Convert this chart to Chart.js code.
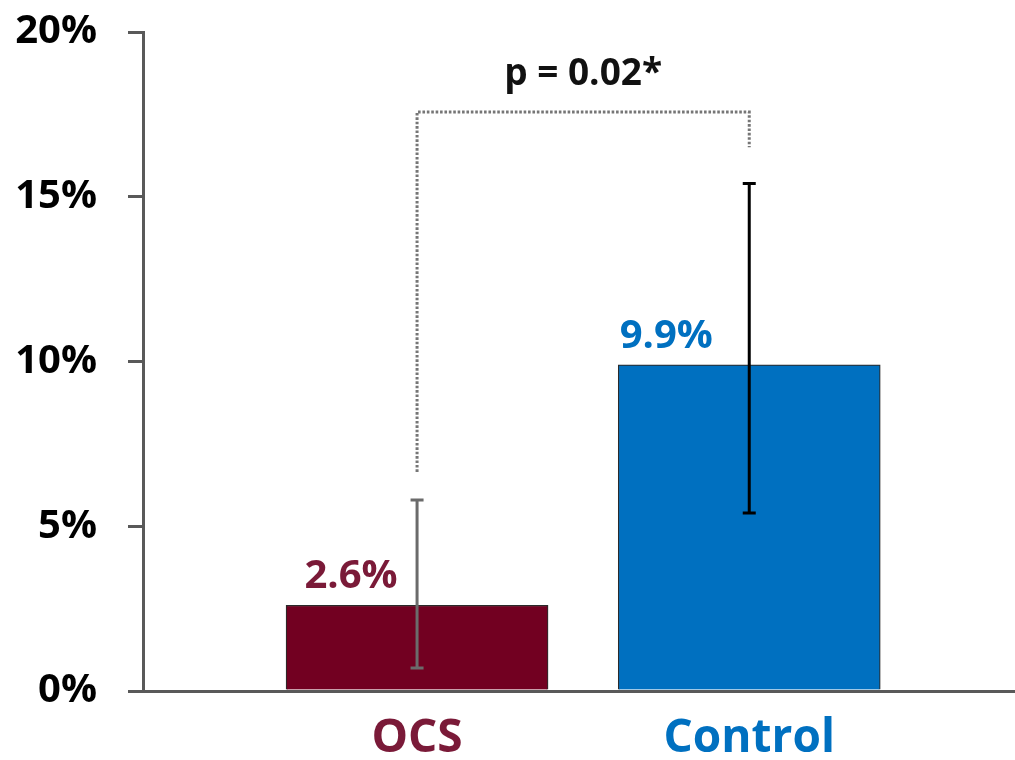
<!DOCTYPE html>
<html>
<head>
<meta charset="utf-8">
<script src="https://cdn.jsdelivr.net/npm/chart.js@4/dist/chart.umd.min.js"></script>
<style>
  html, body { margin: 0; padding: 0; background: #ffffff; }
  #wrap { width: 1015px; height: 760px; position: relative; }
</style>
</head>
<body>
<div id="wrap"><canvas id="chart"></canvas></div>
<script>
// Group labels and event rates (%)
const categories = ['OCS', 'Control'];
const rates = [2.6, 9.9];
// 95% confidence interval bounds (%)
const ciLow = [0.7, 5.4];
const ciHigh = [5.8, 15.4];
// Y-axis tick values (%)
const yTicks = [0, 5, 10, 15, 20];
// Significance comparison
const pLabel = 'p = 0.02*';

const barColors = ['#720021', '#0070C0'];
const textColors = ['#7A1A38', '#0070C0'];
const errColors = ['#6B6B6B', '#000000'];
const FONT = '"Open Sans", "Noto Sans", sans-serif';

const rateLabels = {
  id: 'rateLabels',
  afterDatasetsDraw(chart, args, opts) {
    const ctx = chart.ctx;
    const meta = chart.getDatasetMeta(0);
    const y = chart.scales.y;
    ctx.save();
    meta.data.forEach((bar, i) => {
      // error bar
      const top = y.getPixelForValue(ciHigh[i]);
      const bot = y.getPixelForValue(ciLow[i]);
      ctx.strokeStyle = errColors[i];
      ctx.lineWidth = 3;
      ctx.lineCap = 'butt';
      ctx.beginPath();
      ctx.moveTo(bar.x, top); ctx.lineTo(bar.x, bot);
      ctx.moveTo(bar.x - 6.5, top); ctx.lineTo(bar.x + 6.5, top);
      ctx.moveTo(bar.x - 6.5, bot); ctx.lineTo(bar.x + 6.5, bot);
      ctx.stroke();
      // value label
      ctx.fillStyle = textColors[i];
      ctx.font = 'bold 40px ' + FONT;
      ctx.textAlign = 'center';
      ctx.textBaseline = 'alphabetic';
      ctx.fillText(rates[i].toFixed(1) + '%', bar.x + opts.dx[i], bar.y - opts.gap);
    });
    ctx.restore();
  }
};

const sigBracket = {
  id: 'sigBracket',
  afterDatasetsDraw(chart, args, opts) {
    const ctx = chart.ctx;
    const meta = chart.getDatasetMeta(0);
    const y = chart.scales.y;
    const x1 = meta.data[0].x, x2 = meta.data[1].x;
    const yl = y.getPixelForValue(opts.level);
    ctx.save();
    ctx.strokeStyle = '#767676';
    ctx.lineWidth = 3;
    ctx.setLineDash([2.6, 1.8]);
    ctx.beginPath();
    ctx.moveTo(x1, y.getPixelForValue(opts.leftEnd));
    ctx.lineTo(x1, yl);
    ctx.lineTo(x2, yl);
    ctx.lineTo(x2, y.getPixelForValue(opts.rightEnd));
    ctx.stroke();
    ctx.setLineDash([]);
    ctx.fillStyle = '#111111';
    ctx.font = 'bold 37px ' + FONT;
    ctx.textAlign = 'center';
    ctx.textBaseline = 'alphabetic';
    ctx.fillText(pLabel, (x1 + x2) / 2, y.getPixelForValue(opts.labelLevel));
    ctx.restore();
  }
};

new Chart(document.getElementById('chart'), {
  type: 'bar',
  data: {
    datasets: [{
      data: rates.map((v, i) => ({ x: i + 1, y: v })),
      backgroundColor: barColors,
      borderColor: '#2A2A2A',
      borderWidth: 1.2,
      borderSkipped: 'bottom',
      barThickness: 262
    }]
  },
  plugins: [rateLabels, sigBracket],
  options: {
    responsive: true,
    maintainAspectRatio: false,
    animation: false,
    layout: { padding: { top: 32, right: 0, bottom: 0, left: 0 } },
    plugins: {
      legend: { display: false },
      tooltip: { enabled: false },
      rateLabels: { dx: [-66, -83], gap: 17 },
      sigBracket: { level: 17.57, leftEnd: 6.65, rightEnd: 16.5, labelLevel: 18.4 }
    },
    scales: {
      x: {
        type: 'linear',
        offset: false,
        min: 0.175,
        max: 2.8,
        afterBuildTicks: s => { s.ticks = categories.map((c, i) => ({ value: i + 1 })); },
        afterFit: s => { s.height = 69; s.paddingLeft = 0; s.paddingRight = 0; },
        grid: { display: false },
        border: { display: true, color: '#595959', width: 3 },
        ticks: {
          autoSkip: false,
          maxRotation: 0,
          padding: 12,
          font: { family: FONT, size: 46, weight: 'bold' },
          color: c => textColors[c.index],
          callback: v => categories[v - 1]
        }
      },
      y: {
        min: 0,
        max: 20,
        afterBuildTicks: s => { s.ticks = yTicks.map(v => ({ value: v })); },
        afterFit: s => { s.width = 143; s.paddingTop = 0; s.paddingBottom = 0; },
        grid: { drawOnChartArea: false, drawTicks: true, tickLength: 15, color: '#595959', lineWidth: 3 },
        border: { display: true, color: '#595959', width: 3 },
        ticks: {
          padding: 31,
          font: { family: FONT, size: 40, weight: 'bold' },
          color: '#000000',
          callback: v => v + '%'
        }
      }
    }
  }
});
</script>
</body>
</html>
